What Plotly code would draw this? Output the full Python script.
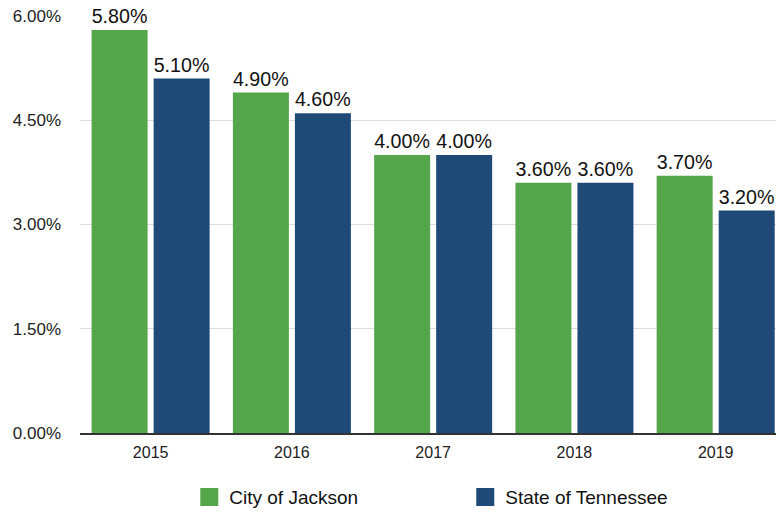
import plotly.graph_objects as go

# Unemployment rate by year, city vs. state
years = ["2015", "2016", "2017", "2018", "2019"]
city_of_jackson = [5.80, 4.90, 4.00, 3.60, 3.70]
state_of_tennessee = [5.10, 4.60, 4.00, 3.60, 3.20]

green = "#55a64a"
navy = "#1f4a77"
font_family = "Liberation Sans, Arial, Helvetica, sans-serif"

fig = go.Figure()

for name, values, color in [
    ("City of Jackson", city_of_jackson, green),
    ("State of Tennessee", state_of_tennessee, navy),
]:
    fig.add_trace(go.Bar(
        x=years, y=values, name=name,
        marker=dict(color=color, line=dict(width=0)),
        texttemplate="%{y:.2f}%", textposition="outside",
        textfont=dict(size=20, color="#111111", family=font_family),
        cliponaxis=False, showlegend=False,
    ))
    # legend entry with a larger square swatch
    fig.add_trace(go.Scatter(
        x=[None], y=[None], mode="markers", name=name,
        marker=dict(symbol="square", size=16, color=color,
                    line=dict(color=color, width=2)),
        showlegend=True,
    ))

fig.update_layout(
    width=776, height=512,
    margin=dict(l=80, r=0, t=16, b=79, autoexpand=False),
    paper_bgcolor="white", plot_bgcolor="white",
    font=dict(family=font_family, size=16, color="#222222"),
    barmode="group", bargap=0.122, bargroupgap=0.097,
    legend=dict(
        orientation="h", x=0.157, xanchor="left", y=-0.108, yanchor="top",
        font=dict(size=19, color="#111111"), entrywidth=231,
        itemsizing="trace",
    ),
)

fig.update_xaxes(
    type="category", range=[-0.5, 4.427],
    showgrid=False, showline=True, linecolor="#333333", linewidth=1.5,
    ticks="", tickfont=dict(size=16), ticklabelstandoff=4,
)
fig.update_yaxes(
    range=[0, 6], dtick=1.5, tickformat=".2f", ticksuffix="%",
    showgrid=True, gridcolor="#dcdcdc", gridwidth=1,
    zeroline=False, showline=False, ticks="",
    tickfont=dict(size=17), ticklabelstandoff=18,
)

fig.write_html("out.html")
